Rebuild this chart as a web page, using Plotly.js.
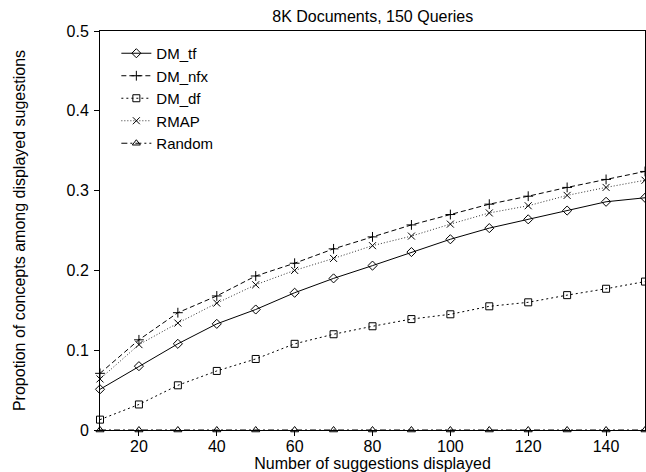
<!DOCTYPE html>
<html>
<head>
<meta charset="utf-8">
<script src="https://cdn.plot.ly/plotly-3.0.1.min.js"></script>
<style>html,body{margin:0;padding:0;background:#fff;}#chart{width:646px;height:472px;}</style>
</head>
<body>
<div id="chart"></div>
<script>
const suggestions = [10, 20, 30, 40, 50, 60, 70, 80, 90, 100, 110, 120, 130, 140, 150];
const dmTf   = [0.051, 0.080, 0.108, 0.133, 0.151, 0.172, 0.190, 0.206, 0.223, 0.239, 0.253, 0.264, 0.275, 0.286, 0.291];
const dmNfx  = [0.071, 0.113, 0.147, 0.168, 0.193, 0.209, 0.227, 0.242, 0.257, 0.270, 0.283, 0.293, 0.304, 0.314, 0.324];
const dmDf   = [0.013, 0.032, 0.056, 0.074, 0.089, 0.108, 0.120, 0.130, 0.139, 0.145, 0.155, 0.160, 0.169, 0.177, 0.186];
const rmap   = [0.064, 0.107, 0.134, 0.159, 0.182, 0.200, 0.215, 0.231, 0.243, 0.258, 0.272, 0.281, 0.294, 0.304, 0.313];
const randomV= [0, 0, 0, 0, 0, 0, 0, 0, 0, 0, 0, 0, 0, 0, 0];
const seriesNames = ["DM_tf", "DM_nfx", "DM_df", "RMAP", "Random"];
const xTicks = [20, 40, 60, 80, 100, 120, 140];
const yTicks = [0, 0.1, 0.2, 0.3, 0.4, 0.5];
const yTickText = ["0", "0.1", "0.2", "0.3", "0.4", "0.5"];

const FONT = "Liberation Sans, Arial, Helvetica, sans-serif";
function tr(name, y, dash, symbol, size, color) {
  return {
    x: suggestions, y: y, name: name, type: "scatter", mode: "lines+markers",
    line: {color: color || "#000", width: 1, dash: dash},
    marker: {symbol: symbol, size: size, color: "#000", line: {color: "#000", width: 1}},
    cliponaxis: false
  };
}
const data = [
  tr(seriesNames[0], dmTf, "solid", "diamond-open", 7),
  tr(seriesNames[1], dmNfx, "5px,3px", "cross-thin-open", 7),
  tr(seriesNames[2], dmDf, "2px,3px", "square-open", 7),
  tr(seriesNames[3], rmap, "1px,2px", "x-thin-open", 7, "#333"),
  tr(seriesNames[4], randomV, "6px,3px,2px,3px", "triangle-up-open", 7)
];
const layout = {
  width: 646, height: 472,
  margin: {l: 100, r: 1, t: 31, b: 42, pad: 0},
  paper_bgcolor: "#fff", plot_bgcolor: "#fff",
  font: {family: FONT, size: 16, color: "#000"},
  title: {text: "8K Documents, 150 Queries", font: {family: FONT, size: 16, color: "#000"},
          x: 0.577, xanchor: "center", y: 0.965, yanchor: "middle", yref: "container"},
  showlegend: true,
  legend: {x: 0.03, y: 0.985, xanchor: "left", yanchor: "top", bgcolor: "rgba(0,0,0,0)",
           font: {family: FONT, size: 15, color: "#000"}, tracegroupgap: 0, itemwidth: 30},
  xaxis: {
    range: [10, 150], tickmode: "array", tickvals: xTicks, ticks: "outside", ticklen: 5,
    tickcolor: "#000", showline: true, linecolor: "#000", linewidth: 1, mirror: true,
    showgrid: false, zeroline: false, tickfont: {family: FONT, size: 16, color: "#000"},
    ticklabelstandoff: -3,
    title: {text: "Number of suggestions displayed", font: {family: FONT, size: 16, color: "#000"}, standoff: 4}
  },
  yaxis: {
    range: [0, 0.5], tickmode: "array", tickvals: yTicks, ticktext: yTickText, ticks: "outside", ticklen: 5,
    tickcolor: "#000", showline: true, linecolor: "#000", linewidth: 1, mirror: true,
    showgrid: false, zeroline: false, tickfont: {family: FONT, size: 16, color: "#000"},
    ticklabelstandoff: 2,
    title: {text: "Propotion of concepts among displayed sugestions", font: {family: FONT, size: 16, color: "#000"}, standoff: 36}
  }
};
Plotly.newPlot("chart", data, layout, {displayModeBar: false, staticPlot: true});
</script>
</body>
</html>
